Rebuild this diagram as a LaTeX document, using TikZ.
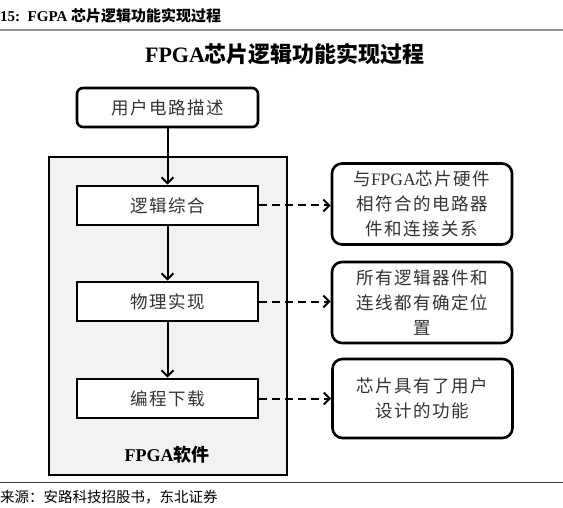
\documentclass[tikz,border=0pt]{standalone}
\usepackage{fontspec}
\setmainfont{Liberation Serif}
\newfontfamily\cjk{Noto Sans CJK SC}
\newfontfamily\cjksp[LetterSpace=9]{Noto Sans CJK SC}
\usetikzlibrary{arrows.meta}
\definecolor{txt}{HTML}{333333}
\definecolor{softfill}{HTML}{F2F2F2}
\tikzset{
  procbox/.style={draw=black, line width=2.6pt, fill=white, minimum width=181pt, minimum height=39pt, inner sep=0pt, text=txt, font=\cjksp\fontsize{17.5}{20}\selectfont},
  notebox/.style={draw=black, line width=2.6pt, fill=white, rounded corners=10pt, minimum width=180pt, minimum height=81pt, inner sep=0pt, align=center, text=txt, font=\cjksp\fontsize{17.5}{25}\selectfont},
  flow/.style={line width=2pt, -{Straight Barb[length=6pt,width=12pt,line width=2pt]}},
  dashflow/.style={line width=2pt, dash pattern=on 8pt off 5pt, -{Straight Barb[length=6pt,width=12pt,line width=2pt]}}
}
\begin{document}
\begin{tikzpicture}[x=1pt,y=-1pt]
\useasboundingbox (0,0) rectangle (563,508);
% header
\node[anchor=west, inner sep=0pt] (hdr) at (0,16) {\fontsize{15}{18}\selectfont\bfseries 15:\ \ FGPA {\cjk\bfseries 芯片逻辑功能实现过程}};
\draw[line width=2pt, draw={rgb,255:red,150;green,150;blue,150}] (0,30) -- (563,30);
% title
\node[inner sep=0pt] (title) at (285,54) {\fontsize{22}{26}\selectfont\bfseries FPGA{\cjk\bfseries 芯片逻辑功能实现过程}};
% software frame
\node[draw=black, line width=2.6pt, fill=softfill, minimum width=238pt, minimum height=318pt, inner sep=0pt] (frame) at (168,316) {};
\node[inner sep=0pt] (sw) at (167,455) {\fontsize{18}{20}\selectfont\bfseries FPGA{\cjk\bfseries 软件}};
% process boxes
\node[procbox, rounded corners=6pt] (user) at (167.5,107.5) {用户电路描述};
\node[procbox] (syn) at (167.5,205.5) {逻辑综合};
\node[procbox] (phy) at (167.5,301.5) {物理实现};
\node[procbox] (prog) at (167.5,398.5) {编程下载};
% notes
\node[notebox] (na) at (422,204) {与{\rmfamily FPGA}芯片硬件\\相符合的电路器\\件和连接关系};
\node[notebox] (nb) at (422,302.5) {所有逻辑器件和\\连线都有确定位\\置};
\node[notebox, minimum height=79pt] (nc) at (422.5,398.5) {芯片具有了用户\\设计的功能};
% arrows
\draw[flow] (user.south) -- (syn.north);
\draw[flow] (syn.south) -- (phy.north);
\draw[flow] (phy.south) -- (prog.north);
\draw[dashflow] (syn.east) -- (syn.east -| na.west);
\draw[dashflow] (phy.east) -- (phy.east -| nb.west);
\draw[dashflow] (prog.east) -- (prog.east -| nc.west);
% footer
\draw[line width=1pt, draw={rgb,255:red,60;green,60;blue,60}] (0,482) -- (563,482);
\node[anchor=west, inner sep=0pt] (src) at (0,497) {\cjk\fontsize{14.5}{16}\selectfont 来源：安路科技招股书，东北证券};
\end{tikzpicture}
\end{document}
